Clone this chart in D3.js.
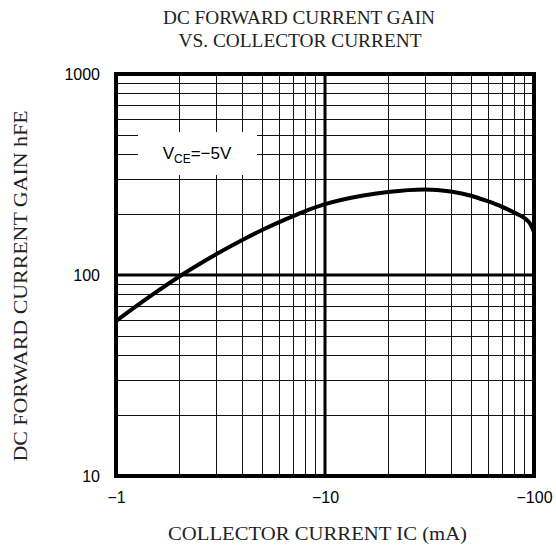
<!DOCTYPE html>
<html><head><meta charset="utf-8">
<script src="https://cdn.jsdelivr.net/npm/d3@7"></script>
<style>body{margin:0;background:#fff}svg{display:block}</style>
</head><body>
<svg id="c" width="556" height="548"></svg>
<script>
const icValues = [1, 1.5, 2, 3, 4, 5, 6, 7, 8, 10, 15, 20, 30, 40, 50, 60, 70, 80, 90, 95, 100];
const hfeValues = [59, 80, 98, 126.5, 149, 167.4, 182.7, 195.8, 207.2, 225, 248, 259, 266.5, 260, 248, 233, 219, 205, 192, 182, 164];
const xTicks = [1, 10, 100];
const xTickLabels = ["\u22121", "\u221210", "\u2212100"];
const yTicks = [10, 100, 1000];
const yTickLabels = ["10", "100", "1000"];
const titleLines = ["DC FORWARD CURRENT GAIN", "VS. COLLECTOR CURRENT"];
const xTitle = "COLLECTOR CURRENT IC (mA)";
const yTitle = "DC FORWARD CURRENT GAIN hFE";

const svg = d3.select("#c");
const L = 116, R = 534, T = 74, B = 476;
const x = d3.scaleLog().domain([1, 100]).range([L, R]);
const y = d3.scaleLog().domain([10, 1000]).range([B, T]);

const minorX = [], minorY = [];
[1, 10].forEach(d => { for (let k = 2; k <= 9; k++) minorX.push(d * k); });
[10, 100].forEach(d => { for (let k = 2; k <= 9; k++) minorY.push(d * k); });

const g = svg.append("g");
g.selectAll(".mx").data(minorX).enter().append("line")
  .attr("x1", d => Math.round(x(d)) + 0.5).attr("x2", d => Math.round(x(d)) + 0.5)
  .attr("y1", T).attr("y2", B).attr("stroke", "#111").attr("stroke-width", 1);
g.selectAll(".my").data(minorY).enter().append("line")
  .attr("y1", d => Math.round(y(d)) + 0.5).attr("y2", d => Math.round(y(d)) + 0.5)
  .attr("x1", L).attr("x2", R).attr("stroke", "#111").attr("stroke-width", 1);
g.append("line").attr("x1", x(10)).attr("x2", x(10)).attr("y1", T).attr("y2", B)
  .attr("stroke", "#000").attr("stroke-width", 3);
g.append("line").attr("y1", y(100)).attr("y2", y(100)).attr("x1", L).attr("x2", R)
  .attr("stroke", "#000").attr("stroke-width", 3);

g.append("rect").attr("x", 138).attr("y", 132).attr("width", 119).attr("height", 43).attr("fill", "#fff");
const lt = g.append("text").attr("x", 197).attr("y", 159).attr("text-anchor", "middle")
  .attr("font-family", "Liberation Sans, Arial, sans-serif").attr("font-size", 17).attr("fill", "#000");
lt.append("tspan").text("V");
lt.append("tspan").attr("font-size", 12).attr("dy", 4).text("CE");
lt.append("tspan").attr("dy", -4).text("=\u22125V");

const line = d3.line().x(d => x(d[0])).y(d => y(d[1])).curve(d3.curveMonotoneX);
g.append("path").datum(icValues.map((v, i) => [v, hfeValues[i]]))
  .attr("d", line).attr("fill", "none").attr("stroke", "#000").attr("stroke-width", 4)
  .attr("stroke-linejoin", "round");

g.append("rect").attr("x", L).attr("y", T).attr("width", R - L).attr("height", B - T)
  .attr("fill", "none").attr("stroke", "#000").attr("stroke-width", 4);

const xa = d3.axisBottom(x).tickValues(xTicks).tickSize(0).tickPadding(0)
  .tickFormat((d, i) => xTickLabels[i]);
const xg = svg.append("g").attr("transform", `translate(0,${B + 16})`).call(xa);
xg.select(".domain").remove();
xg.selectAll("text").attr("font-family", "Liberation Sans, Arial, sans-serif").attr("font-size", 16).attr("fill", "#000").attr("dy", "0.71em");

const ya = d3.axisLeft(y).tickValues(yTicks).tickSize(0).tickPadding(0)
  .tickFormat((d, i) => yTickLabels[i]);
const yg = svg.append("g").attr("transform", `translate(${L - 16},0)`).call(ya);
yg.select(".domain").remove();
yg.selectAll("text").attr("font-family", "Liberation Sans, Arial, sans-serif").attr("font-size", 16).attr("fill", "#000");

const serif = "Liberation Serif, Times New Roman, serif";
function stxt(xp, yp, s, len, rot) {
  const t = svg.append("text").attr("text-anchor", "middle")
    .attr("font-family", serif).attr("font-size", 18).attr("fill", "#222")
    .attr("textLength", len).attr("lengthAdjust", "spacingAndGlyphs").text(s);
  if (rot) t.attr("transform", `translate(${xp},${yp}) rotate(-90)`);
  else t.attr("x", xp).attr("y", yp);
}
stxt(299, 24, titleLines[0], 272);
stxt(300, 47, titleLines[1], 243);
stxt(317.5, 540, xTitle, 299);
stxt(27, 286, yTitle, 351, true);
</script>
</body></html>
